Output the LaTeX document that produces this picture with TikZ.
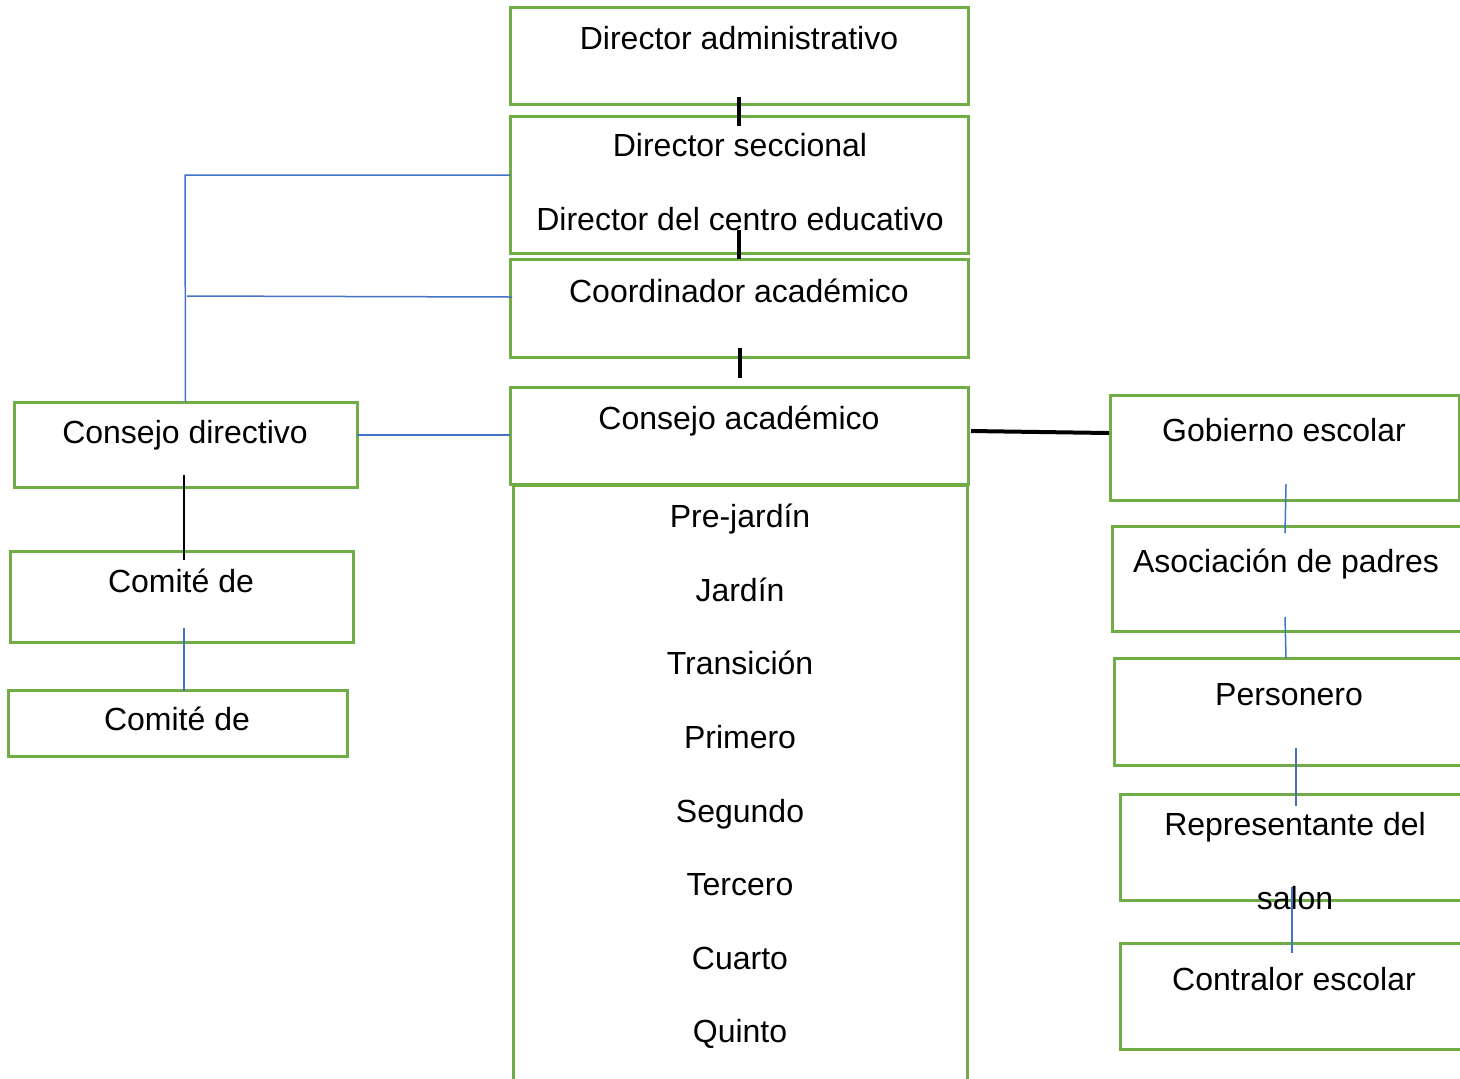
\documentclass[tikz,border=0pt]{standalone}
\usepackage{fontspec}
\setmainfont{Liberation Sans}
\definecolor{boxgreen}{HTML}{70AD47}
\definecolor{lineblue}{HTML}{4472C4}
\begin{document}
\begin{tikzpicture}[x=0.5pt,y=-0.5pt,
  box/.style={draw=boxgreen,line width=1.5pt,rectangle,inner sep=0pt,outer sep=0pt,anchor=north west},
  lbl/.style={anchor=base,inner sep=0pt,font=\fontsize{16}{19}\selectfont},
  thk/.style={draw=black,line width=2pt},
  thn/.style={draw=black,line width=0.6pt},
  blu/.style={draw=lineblue,line width=0.75pt}]
\clip (0,0) rectangle (1460,1078);
\fill[white] (0,0) rectangle (1460,1078);
% boxes
\node[box,minimum width=229pt,minimum height=48.5pt] (A) at (510,7) {};
\node[box,minimum width=229pt,minimum height=68.5pt] (B) at (510,116) {};
\node[box,minimum width=229pt,minimum height=49pt] (C) at (510,259) {};
\node[box,minimum width=229pt,minimum height=48.5pt] (D) at (510,387) {};
\node[box,minimum width=227pt,minimum height=307.5pt] (E) at (513,485) {};
\node[box,minimum width=171.5pt,minimum height=42.5pt] (CD) at (14,402) {};
\node[box,minimum width=171.5pt,minimum height=45.5pt] (CM1) at (10,551) {};
\node[box,minimum width=169.5pt,minimum height=33pt] (CM2) at (8,690) {};
\node[box,minimum width=174.5pt,minimum height=52.5pt] (G) at (1110,395) {};
\node[box,minimum width=181.5pt,minimum height=52.5pt] (AS) at (1112,526) {};
\node[box,minimum width=180.5pt,minimum height=53.5pt] (P) at (1114,658) {};
\node[box,minimum width=177.5pt,minimum height=53pt] (R) at (1120,794) {};
\node[box,minimum width=177.5pt,minimum height=53pt] (CT) at (1120,943) {};
% texts
\node[lbl] (tA) at (739,49) {Director administrativo};
\node[lbl] (tB1) at (740,156) {Director seccional};
\node[lbl] (tB2) at (740,230) {Director del centro educativo};
\node[lbl] (tC) at (739,302) {Coordinador académico};
\node[lbl] (tD) at (739,429) {Consejo académico};
\node[lbl] (g1) at (740,527) {Pre-jardín};
\node[lbl] (g2) at (740,601) {Jardín};
\node[lbl] (g3) at (740,674) {Transición};
\node[lbl] (g4) at (740,748) {Primero};
\node[lbl] (g5) at (740,822) {Segundo};
\node[lbl] (g6) at (740,895) {Tercero};
\node[lbl] (g7) at (740,969) {Cuarto};
\node[lbl] (g8) at (740,1042) {Quinto};
\node[lbl] (tCD) at (185,443) {Consejo directivo};
\node[lbl] (tCM1) at (181,592) {Comité de};
\node[lbl] (tCM2) at (177,730) {Comité de};
\node[lbl] (tG) at (1284,441) {Gobierno escolar};
\node[lbl] (tAS) at (1286,572) {Asociación de padres};
\node[lbl] (tP) at (1289,705) {Personero};
\node[lbl] (tR1) at (1295,835) {Representante del};
\node[lbl] (tR2) at (1295,909) {salon};
\node[lbl] (tCT) at (1294,990) {Contralor escolar};
% connectors
\coordinate (jA) at (185,175);
\coordinate (jB) at (187,296);
\draw[thk] ([yshift=3.5pt]A.south) -- ([yshift=-5pt]B.north);
\draw[thk] ([yshift=11.5pt]B.south) -- (C.north);
\draw[thk] ([xshift=0.5pt,yshift=4.5pt]C.south) -- ([xshift=0.5pt,yshift=4.5pt]D.north);
\draw[thk] ([xshift=1.5pt,yshift=2.25pt]D.east) -- ([xshift=-0.5pt,yshift=7.25pt]G.west);
\draw[blu] ([yshift=4.75pt]B.west) -- (jA) -- (CD.north);
\draw[blu] (jB) -- ([xshift=1pt,yshift=5.5pt]C.west);
\draw[blu] ([yshift=4.75pt]CD.east) -- ([yshift=4.75pt]CD.east -| D.west);
\draw[thn] ([xshift=-0.75pt,yshift=6pt]CD.south) -- ([xshift=-0.75pt,yshift=-4.5pt]CD.south |- CM1.north);
\draw[blu] ([xshift=1.25pt,yshift=7pt]CM1.south) -- ([xshift=1.25pt,yshift=-0.5pt]CM1.south |- CM2.north);
\draw[blu] ([xshift=0.75pt,yshift=8pt]G.south) -- ([xshift=-4.25pt,yshift=-3.5pt]AS.north);
\draw[blu] ([xshift=-4.25pt,yshift=7pt]AS.south) -- ([xshift=-4.25pt]P.north);
\draw[blu] ([xshift=0.75pt,yshift=8.5pt]P.south) -- ([xshift=-0.75pt,yshift=-6pt]R.north);
\draw[blu] ([xshift=-2.75pt,yshift=6.5pt]R.south) -- ([xshift=-2.75pt,yshift=-5pt]CT.north);
\end{tikzpicture}
\end{document}
